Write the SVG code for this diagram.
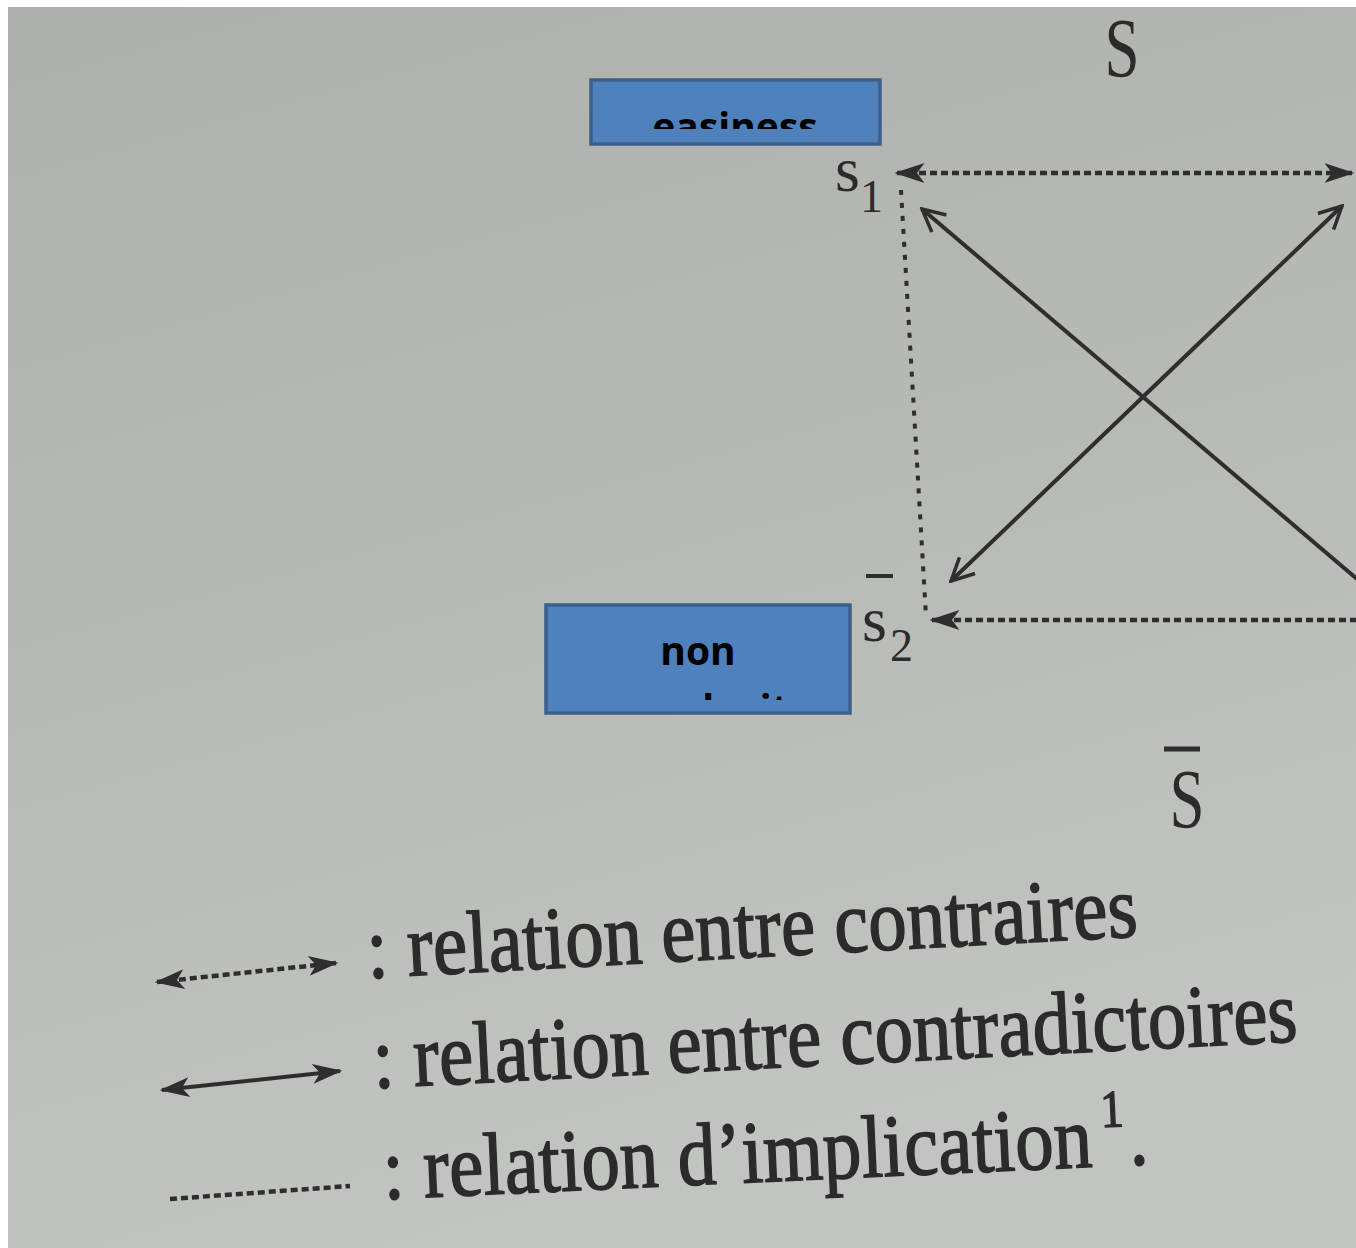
<svg xmlns="http://www.w3.org/2000/svg" width="1356" height="1248" viewBox="0 0 1356 1248">
<style>
.ink{fill:#2b2b2b;font-family:"Liberation Serif","DejaVu Serif",serif}
.leg{fill:#2b2b2b;stroke:#2b2b2b;stroke-width:1.3;font-family:"Liberation Serif","DejaVu Serif",serif;font-size:77px}
.box{fill:#4f81bd;stroke:#3b5f8c;stroke-width:3.5}
.btxt{fill:#000;font-family:"Open Sans","Noto Sans",sans-serif;font-weight:bold;font-size:39px;text-anchor:middle}
.solid{stroke:#2e2e2e;stroke-width:4;fill:none}
.dash{stroke:#2e2e2e;stroke-width:4.5;fill:none;stroke-dasharray:7 4}
.dot{stroke:#2e2e2e;stroke-width:4;fill:none;stroke-dasharray:5 8}
</style>
<defs>
<linearGradient id="bg" x1="0" y1="0" x2="0.3" y2="1">
<stop offset="0" stop-color="#aeb0ac"/>
<stop offset="0.5" stop-color="#b7b9b5"/>
<stop offset="1" stop-color="#c2c4c1"/>
</linearGradient>
<marker id="fill" viewBox="0 0 12 12" refX="11" refY="6" markerWidth="30" markerHeight="30" orient="auto-start-reverse" markerUnits="userSpaceOnUse">
<path d="M0,2 L12,6 L0,10 L3,6 Z" fill="#2e2e2e"/>
</marker>
<marker id="big" viewBox="0 0 12 12" refX="11" refY="6" markerWidth="30" markerHeight="30" orient="auto-start-reverse" markerUnits="userSpaceOnUse">
<path d="M2,1.5 L11,6 L2,10.5" fill="none" stroke="#2e2e2e" stroke-width="1.4"/>
</marker>
<clipPath id="c1"><rect x="593" y="82" width="285" height="47"/></clipPath>
<clipPath id="c2"><rect x="548" y="607" width="300" height="93"/></clipPath>
</defs>
<rect x="0" y="0" width="1356" height="1248" fill="#ffffff"/>
<rect x="8" y="7" width="1348" height="1241" fill="url(#bg)"/>

<g id="connectors">
<line class="dash" x1="897" y1="173" x2="1352" y2="173" marker-start="url(#fill)" marker-end="url(#fill)"/>
<line class="dash" x1="932" y1="620" x2="1360" y2="620" marker-start="url(#fill)"/>
<line class="dot" x1="901" y1="190" x2="926" y2="616"/>
<line class="solid" x1="922" y1="209" x2="1370" y2="590" marker-start="url(#big)"/>
<line class="solid" x1="951" y1="581" x2="1342" y2="206" marker-start="url(#big)" marker-end="url(#big)"/>
</g>

<g id="node-S"><text class="ink" x="1122" y="77" font-size="84" text-anchor="middle" transform="translate(1122 0) scale(0.75 1) translate(-1122 0)">S</text></g>
<g id="node-s1"><text class="ink" x="835" y="191" font-size="64">s</text><text class="ink" x="860" y="212" font-size="46">1</text></g>
<g id="node-s2bar"><line x1="866" y1="576" x2="893" y2="576" stroke="#2e2e2e" stroke-width="4"/><text class="ink" x="862" y="641" font-size="64">s</text><text class="ink" x="890" y="661" font-size="46">2</text></g>
<g id="node-Sbar"><line x1="1164" y1="749" x2="1200" y2="749" stroke="#2e2e2e" stroke-width="5"/><text class="ink" x="1187" y="828" font-size="84" text-anchor="middle" transform="translate(1187 0) scale(0.75 1) translate(-1187 0)">S</text></g>

<g id="node-easiness">
<rect class="box" x="591" y="80" width="289" height="64"/>
<text class="btxt" x="735" y="141" clip-path="url(#c1)">easiness</text>
</g>
<g id="node-noncomplexity">
<rect class="box" x="546" y="605" width="304" height="108"/>
<g clip-path="url(#c2)">
<text class="btxt" x="698" y="665">non</text>
<text class="btxt" x="703" y="723">complexity</text>
</g>
</g>

<g id="legend">
<line class="dash" x1="157" y1="982" x2="336" y2="963" marker-start="url(#fill)" marker-end="url(#fill)"/>
<text class="leg" transform="translate(368 978) rotate(-3.1) scale(1 1.15)">: relation entre contraires</text>
<line class="solid" x1="162" y1="1090" x2="340" y2="1071" marker-start="url(#fill)" marker-end="url(#fill)"/>
<text class="leg" transform="translate(374 1088) rotate(-2.9) scale(1 1.15)">: relation entre contradictoires</text>
<line class="dash" x1="170" y1="1199" x2="350" y2="1186"/>
<text class="leg" transform="translate(384 1199) rotate(-2.6) scale(1 1.15)">: relation d’implication<tspan font-size="46" dx="10" dy="-34">1</tspan><tspan dx="4" dy="34">.</tspan></text>
</g>
</svg>
